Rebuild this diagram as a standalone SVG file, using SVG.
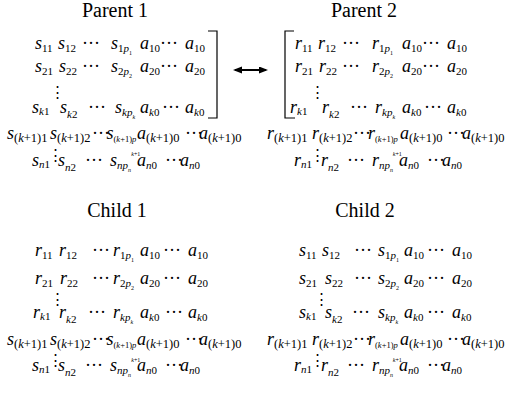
<svg xmlns="http://www.w3.org/2000/svg" width="524" height="397" viewBox="0 0 524 397">
<style>
text{font-family:"Liberation Serif","Times New Roman",serif;font-size:18px;fill:#000}
.i{font-style:italic}
.b{font-size:11px}
.c{font-size:12.5px}
.e{font-size:8.5px}
.f{font-size:6px}
.t{font-size:20px}
.v{font-family:"DejaVu Serif",serif;font-size:15px}
.br{fill:none;stroke:#000;stroke-width:1.2}
</style>
<defs>
<marker id="ah" markerUnits="userSpaceOnUse" markerWidth="10" markerHeight="8" refX="7" refY="3.5" orient="auto-start-reverse">
<path d="M0,0 L9,3.5 L0,7 z" fill="#000"/>
</marker>
</defs>

<g id="parent1">
<text class="t" x="115" y="17" text-anchor="middle">Parent 1</text>
<polyline class="br" points="208,31 217,31 217,118 208,118"/>
<text x="35" y="49"><tspan class="i">s</tspan><tspan class="b" dy="3">11</tspan></text>
<text x="58" y="49"><tspan class="i">s</tspan><tspan class="b" dy="3">12</tspan></text>
<text x="82" y="49">···</text>
<text x="111" y="49"><tspan class="i">s</tspan><tspan class="b" dy="3">1</tspan><tspan class="b i">p</tspan><tspan class="f" dy="3">1</tspan></text>
<text x="140" y="49"><tspan class="i">a</tspan><tspan class="b" dy="3">10</tspan></text>
<text x="160" y="49">···</text>
<text x="185" y="49"><tspan class="i">a</tspan><tspan class="b" dy="3">10</tspan></text>
<text x="35" y="72"><tspan class="i">s</tspan><tspan class="b" dy="3">21</tspan></text>
<text x="59" y="72"><tspan class="i">s</tspan><tspan class="b" dy="3">22</tspan></text>
<text x="82" y="72">···</text>
<text x="111" y="72"><tspan class="i">s</tspan><tspan class="b" dy="3">2</tspan><tspan class="b i">p</tspan><tspan class="f" dy="3">2</tspan></text>
<text x="140" y="72"><tspan class="i">a</tspan><tspan class="b" dy="3">20</tspan></text>
<text x="160" y="72">···</text>
<text x="185" y="72"><tspan class="i">a</tspan><tspan class="b" dy="3">20</tspan></text>
<text class="v" x="57" y="97" text-anchor="middle">⋮</text>
<text x="32" y="113"><tspan class="i">s</tspan><tspan class="b" dy="2"><tspan class="i">k</tspan>1</tspan></text>
<text x="60" y="113"><tspan class="i">s</tspan><tspan class="b" dy="5"><tspan class="i">k</tspan>2</tspan></text>
<text x="88" y="113">···</text>
<text x="115" y="113"><tspan class="i">s</tspan><tspan class="b i" dy="3">kp</tspan><tspan class="f i" dy="3">k</tspan></text>
<text x="140" y="113"><tspan class="i">a</tspan><tspan class="b" dy="3"><tspan class="i">k</tspan>0</tspan></text>
<text x="162" y="113">···</text>
<text x="185" y="113"><tspan class="i">a</tspan><tspan class="b" dy="3"><tspan class="i">k</tspan>0</tspan></text>
<text x="7" y="139"><tspan class="i">s</tspan><tspan class="c" dy="3">(<tspan class="i">k</tspan>+1)1</tspan></text>
<text x="50" y="139"><tspan class="i">s</tspan><tspan class="c" dy="3">(<tspan class="i">k</tspan>+1)2</tspan></text>
<text x="92" y="139">···</text>
<text x="106.5" y="139"><tspan class="i">s</tspan><tspan class="e" dy="3">(<tspan class="i">k</tspan>+1)<tspan class="i">p</tspan></tspan><tspan class="f" dx="-5" dy="14"><tspan class="i">k</tspan>+1</tspan></text>
<text x="137" y="139"><tspan class="i">a</tspan><tspan class="c" dy="3">(<tspan class="i">k</tspan>+1)0</tspan></text>
<text x="185" y="139">···</text>
<text x="199" y="139"><tspan class="i">a</tspan><tspan class="c" dy="3">(<tspan class="i">k</tspan>+1)0</tspan></text>
<text class="v" x="55" y="160" text-anchor="middle">⋮</text>
<text x="32" y="166"><tspan class="i">s</tspan><tspan class="b" dy="2"><tspan class="i">n</tspan>1</tspan></text>
<text x="58" y="166"><tspan class="i">s</tspan><tspan class="b" dy="5"><tspan class="i">n</tspan>2</tspan></text>
<text x="85" y="166">···</text>
<text x="110" y="166"><tspan class="i">s</tspan><tspan class="b i" dy="3">np</tspan><tspan class="f i" dy="3">n</tspan></text>
<text x="137" y="166"><tspan class="i">a</tspan><tspan class="b" dy="3"><tspan class="i">n</tspan>0</tspan></text>
<text x="165" y="166">···</text>
<text x="180" y="166"><tspan class="i">a</tspan><tspan class="b" dy="3"><tspan class="i">n</tspan>0</tspan></text>
</g>

<g id="parent2">
<text class="t" x="364" y="17" text-anchor="middle">Parent 2</text>
<polyline class="br" points="294,31 285,31 285,118 295,118"/>
<text x="295" y="49"><tspan class="i">r</tspan><tspan class="b" dy="3">11</tspan></text>
<text x="318" y="49"><tspan class="i">r</tspan><tspan class="b" dy="3">12</tspan></text>
<text x="342" y="49">···</text>
<text x="372" y="49"><tspan class="i">r</tspan><tspan class="b" dy="3">1</tspan><tspan class="b i">p</tspan><tspan class="f" dy="3">1</tspan></text>
<text x="402" y="49"><tspan class="i">a</tspan><tspan class="b" dy="3">10</tspan></text>
<text x="422" y="49">···</text>
<text x="447" y="49"><tspan class="i">a</tspan><tspan class="b" dy="3">10</tspan></text>
<text x="295" y="72"><tspan class="i">r</tspan><tspan class="b" dy="3">21</tspan></text>
<text x="319" y="72"><tspan class="i">r</tspan><tspan class="b" dy="3">22</tspan></text>
<text x="342" y="72">···</text>
<text x="372" y="72"><tspan class="i">r</tspan><tspan class="b" dy="3">2</tspan><tspan class="b i">p</tspan><tspan class="f" dy="3">2</tspan></text>
<text x="402" y="72"><tspan class="i">a</tspan><tspan class="b" dy="3">20</tspan></text>
<text x="422" y="72">···</text>
<text x="447" y="72"><tspan class="i">a</tspan><tspan class="b" dy="3">20</tspan></text>
<text class="v" x="317" y="97" text-anchor="middle">⋮</text>
<text x="290" y="113"><tspan class="i">r</tspan><tspan class="b" dy="2"><tspan class="i">k</tspan>1</tspan></text>
<text x="322" y="113"><tspan class="i">r</tspan><tspan class="b" dy="5"><tspan class="i">k</tspan>2</tspan></text>
<text x="350" y="113">···</text>
<text x="375" y="113"><tspan class="i">r</tspan><tspan class="b i" dy="3">kp</tspan><tspan class="f i" dy="3">k</tspan></text>
<text x="402" y="113"><tspan class="i">a</tspan><tspan class="b" dy="3"><tspan class="i">k</tspan>0</tspan></text>
<text x="424" y="113">···</text>
<text x="447" y="113"><tspan class="i">a</tspan><tspan class="b" dy="3"><tspan class="i">k</tspan>0</tspan></text>
<text x="267" y="139"><tspan class="i">r</tspan><tspan class="c" dy="3">(<tspan class="i">k</tspan>+1)1</tspan></text>
<text x="312" y="139"><tspan class="i">r</tspan><tspan class="c" dy="3">(<tspan class="i">k</tspan>+1)2</tspan></text>
<text x="353" y="139">···</text>
<text x="368" y="139"><tspan class="i">r</tspan><tspan class="e" dy="3">(<tspan class="i">k</tspan>+1)<tspan class="i">p</tspan></tspan><tspan class="f" dx="-5" dy="14"><tspan class="i">k</tspan>+1</tspan></text>
<text x="400" y="139"><tspan class="i">a</tspan><tspan class="c" dy="3">(<tspan class="i">k</tspan>+1)0</tspan></text>
<text x="447" y="139">···</text>
<text x="462" y="139"><tspan class="i">a</tspan><tspan class="c" dy="3">(<tspan class="i">k</tspan>+1)0</tspan></text>
<text class="v" x="317" y="160" text-anchor="middle">⋮</text>
<text x="294" y="166"><tspan class="i">r</tspan><tspan class="b" dy="2"><tspan class="i">n</tspan>1</tspan></text>
<text x="321" y="166"><tspan class="i">r</tspan><tspan class="b" dy="5"><tspan class="i">n</tspan>2</tspan></text>
<text x="347" y="166">···</text>
<text x="372" y="166"><tspan class="i">r</tspan><tspan class="b i" dy="3">np</tspan><tspan class="f i" dy="3">n</tspan></text>
<text x="399" y="166"><tspan class="i">a</tspan><tspan class="b" dy="3"><tspan class="i">n</tspan>0</tspan></text>
<text x="427" y="166">···</text>
<text x="442" y="166"><tspan class="i">a</tspan><tspan class="b" dy="3"><tspan class="i">n</tspan>0</tspan></text>
</g>

<g id="child1">
<text class="t" x="117" y="217" text-anchor="middle">Child 1</text>
<text x="35" y="256"><tspan class="i">r</tspan><tspan class="b" dy="3">11</tspan></text>
<text x="59" y="256"><tspan class="i">r</tspan><tspan class="b" dy="3">12</tspan></text>
<text x="92" y="256">···</text>
<text x="113" y="256"><tspan class="i">r</tspan><tspan class="b" dy="3">1</tspan><tspan class="b i">p</tspan><tspan class="f" dy="3">1</tspan></text>
<text x="140" y="256"><tspan class="i">a</tspan><tspan class="b" dy="3">10</tspan></text>
<text x="163" y="256">···</text>
<text x="188" y="256"><tspan class="i">a</tspan><tspan class="b" dy="3">10</tspan></text>
<text x="35" y="284"><tspan class="i">r</tspan><tspan class="b" dy="3">21</tspan></text>
<text x="60" y="284"><tspan class="i">r</tspan><tspan class="b" dy="3">22</tspan></text>
<text x="92" y="284">···</text>
<text x="113" y="284"><tspan class="i">r</tspan><tspan class="b" dy="3">2</tspan><tspan class="b i">p</tspan><tspan class="f" dy="3">2</tspan></text>
<text x="140" y="284"><tspan class="i">a</tspan><tspan class="b" dy="3">20</tspan></text>
<text x="163" y="284">···</text>
<text x="188" y="284"><tspan class="i">a</tspan><tspan class="b" dy="3">20</tspan></text>
<text class="v" x="57" y="304" text-anchor="middle">⋮</text>
<text x="33" y="318"><tspan class="i">r</tspan><tspan class="b" dy="2"><tspan class="i">k</tspan>1</tspan></text>
<text x="59" y="318"><tspan class="i">r</tspan><tspan class="b" dy="5"><tspan class="i">k</tspan>2</tspan></text>
<text x="88" y="318">···</text>
<text x="113" y="318"><tspan class="i">r</tspan><tspan class="b i" dy="3">kp</tspan><tspan class="f i" dy="3">k</tspan></text>
<text x="140" y="318"><tspan class="i">a</tspan><tspan class="b" dy="3"><tspan class="i">k</tspan>0</tspan></text>
<text x="165" y="318">···</text>
<text x="188" y="318"><tspan class="i">a</tspan><tspan class="b" dy="3"><tspan class="i">k</tspan>0</tspan></text>
<text x="7" y="345"><tspan class="i">s</tspan><tspan class="c" dy="3">(<tspan class="i">k</tspan>+1)1</tspan></text>
<text x="50" y="345"><tspan class="i">s</tspan><tspan class="c" dy="3">(<tspan class="i">k</tspan>+1)2</tspan></text>
<text x="92" y="345">···</text>
<text x="106.5" y="345"><tspan class="i">s</tspan><tspan class="e" dy="3">(<tspan class="i">k</tspan>+1)<tspan class="i">p</tspan></tspan><tspan class="f" dx="-5" dy="14"><tspan class="i">k</tspan>+1</tspan></text>
<text x="137" y="345"><tspan class="i">a</tspan><tspan class="c" dy="3">(<tspan class="i">k</tspan>+1)0</tspan></text>
<text x="185" y="345">···</text>
<text x="199" y="345"><tspan class="i">a</tspan><tspan class="c" dy="3">(<tspan class="i">k</tspan>+1)0</tspan></text>
<text class="v" x="55" y="365" text-anchor="middle">⋮</text>
<text x="32" y="371"><tspan class="i">s</tspan><tspan class="b" dy="2"><tspan class="i">n</tspan>1</tspan></text>
<text x="58" y="371"><tspan class="i">s</tspan><tspan class="b" dy="5"><tspan class="i">n</tspan>2</tspan></text>
<text x="85" y="371">···</text>
<text x="110" y="371"><tspan class="i">s</tspan><tspan class="b i" dy="3">np</tspan><tspan class="f i" dy="3">n</tspan></text>
<text x="137" y="371"><tspan class="i">a</tspan><tspan class="b" dy="3"><tspan class="i">n</tspan>0</tspan></text>
<text x="165" y="371">···</text>
<text x="180" y="371"><tspan class="i">a</tspan><tspan class="b" dy="3"><tspan class="i">n</tspan>0</tspan></text>
</g>

<g id="child2">
<text class="t" x="365" y="217" text-anchor="middle">Child 2</text>
<text x="299" y="256"><tspan class="i">s</tspan><tspan class="b" dy="3">11</tspan></text>
<text x="322" y="256"><tspan class="i">s</tspan><tspan class="b" dy="3">12</tspan></text>
<text x="354" y="256">···</text>
<text x="378" y="256"><tspan class="i">s</tspan><tspan class="b" dy="3">1</tspan><tspan class="b i">p</tspan><tspan class="f" dy="3">1</tspan></text>
<text x="404" y="256"><tspan class="i">a</tspan><tspan class="b" dy="3">10</tspan></text>
<text x="427" y="256">···</text>
<text x="452" y="256"><tspan class="i">a</tspan><tspan class="b" dy="3">10</tspan></text>
<text x="299" y="284"><tspan class="i">s</tspan><tspan class="b" dy="3">21</tspan></text>
<text x="325" y="284"><tspan class="i">s</tspan><tspan class="b" dy="3">22</tspan></text>
<text x="354" y="284">···</text>
<text x="378" y="284"><tspan class="i">s</tspan><tspan class="b" dy="3">2</tspan><tspan class="b i">p</tspan><tspan class="f" dy="3">2</tspan></text>
<text x="404" y="284"><tspan class="i">a</tspan><tspan class="b" dy="3">20</tspan></text>
<text x="427" y="284">···</text>
<text x="452" y="284"><tspan class="i">a</tspan><tspan class="b" dy="3">20</tspan></text>
<text class="v" x="321" y="304" text-anchor="middle">⋮</text>
<text x="299" y="318"><tspan class="i">s</tspan><tspan class="b" dy="2"><tspan class="i">k</tspan>1</tspan></text>
<text x="325" y="318"><tspan class="i">s</tspan><tspan class="b" dy="5"><tspan class="i">k</tspan>2</tspan></text>
<text x="352" y="318">···</text>
<text x="378" y="318"><tspan class="i">s</tspan><tspan class="b i" dy="3">kp</tspan><tspan class="f i" dy="3">k</tspan></text>
<text x="404" y="318"><tspan class="i">a</tspan><tspan class="b" dy="3"><tspan class="i">k</tspan>0</tspan></text>
<text x="427" y="318">···</text>
<text x="452" y="318"><tspan class="i">a</tspan><tspan class="b" dy="3"><tspan class="i">k</tspan>0</tspan></text>
<text x="267" y="345"><tspan class="i">r</tspan><tspan class="c" dy="3">(<tspan class="i">k</tspan>+1)1</tspan></text>
<text x="312" y="345"><tspan class="i">r</tspan><tspan class="c" dy="3">(<tspan class="i">k</tspan>+1)2</tspan></text>
<text x="353" y="345">···</text>
<text x="368" y="345"><tspan class="i">r</tspan><tspan class="e" dy="3">(<tspan class="i">k</tspan>+1)<tspan class="i">p</tspan></tspan><tspan class="f" dx="-5" dy="14"><tspan class="i">k</tspan>+1</tspan></text>
<text x="400" y="345"><tspan class="i">a</tspan><tspan class="c" dy="3">(<tspan class="i">k</tspan>+1)0</tspan></text>
<text x="447" y="345">···</text>
<text x="462" y="345"><tspan class="i">a</tspan><tspan class="c" dy="3">(<tspan class="i">k</tspan>+1)0</tspan></text>
<text class="v" x="317" y="365" text-anchor="middle">⋮</text>
<text x="294" y="371"><tspan class="i">r</tspan><tspan class="b" dy="2"><tspan class="i">n</tspan>1</tspan></text>
<text x="321" y="371"><tspan class="i">r</tspan><tspan class="b" dy="5"><tspan class="i">n</tspan>2</tspan></text>
<text x="347" y="371">···</text>
<text x="372" y="371"><tspan class="i">r</tspan><tspan class="b i" dy="3">np</tspan><tspan class="f i" dy="3">n</tspan></text>
<text x="399" y="371"><tspan class="i">a</tspan><tspan class="b" dy="3"><tspan class="i">n</tspan>0</tspan></text>
<text x="427" y="371">···</text>
<text x="442" y="371"><tspan class="i">a</tspan><tspan class="b" dy="3"><tspan class="i">n</tspan>0</tspan></text>
</g>

<g id="connectors">
<line x1="235" y1="70" x2="266" y2="70" stroke="#000" stroke-width="2" marker-start="url(#ah)" marker-end="url(#ah)"/>
</g>
</svg>
